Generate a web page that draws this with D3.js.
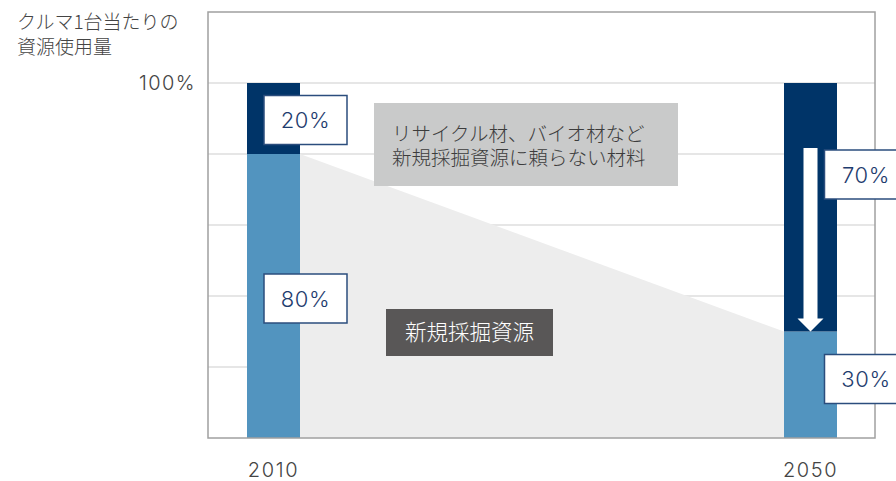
<!DOCTYPE html>
<html>
<head>
<meta charset="utf-8">
<title>クルマ1台当たりの資源使用量</title>
<style>
    body { margin: 0; background: #fff; }
    svg text { font-family: "Noto Sans CJK JP", "Noto Sans", sans-serif; font-weight: 300; }
    svg text.num { font-family: Inter, Roboto, "Noto Sans CJK JP", sans-serif; font-weight: 300; }
</style>
<script src="https://cdn.jsdelivr.net/npm/d3@7"></script>
</head>
<body>
<div id="chart"></div>
<script>
    // data
    const years = [2010, 2050];
    const newResource = [80, 30];      // 新規採掘資源 (%)
    const altMaterial = [20, 70];      // リサイクル材、バイオ材など (%)
    const gridTicks = [0, 20, 40, 60, 80, 100];
    const tickLabels = ["100%"];
    const titleLines = ["クルマ1台当たりの", "資源使用量"];
    const altLines = ["リサイクル材、バイオ材など", "新規採掘資源に頼らない材料"];
    const newLabel = "新規採掘資源";

    const COLOR = {
        NAVY: "#003468",
        BLUE: "#5294bf",
        AREA: "#ededed",
        GRID: "#dedede",
        FRAME: "#a0a0a0",
        TEXT: "#444",
        LABEL: "#1e3c6e"
    };

    const W = 896, H = 481;
    const frame = { left: 208, right: 875, top: 12, bottom: 438 };
    const barW = 53;

    const svg = d3.select("#chart").append("svg")
        .attr("width", W)
        .attr("height", H);

    const x = d3.scaleLinear().domain([2010, 2050]).range([273.5, 810.5]);
    const y = d3.scaleLinear().domain([0, 100]).range([frame.bottom, 83]);

    // gridlines
    svg.append("g")
        .selectAll("line")
        .data(gridTicks.filter(d => d > 0))
        .join("line")
        .attr("x1", frame.left)
        .attr("x2", frame.right)
        .attr("y1", d => y(d))
        .attr("y2", d => y(d))
        .attr("stroke", COLOR.GRID)
        .attr("stroke-width", 1.5);

    // grey area between the new-resource shares
    const area = d3.area()
        .x(d => d.x)
        .y0(y(0))
        .y1(d => d.y);
    svg.append("path")
        .datum([
            { x: x(years[0]) + barW / 2, y: y(newResource[0]) },
            { x: x(years[1]) - barW / 2, y: y(newResource[1]) }
        ])
        .attr("d", area)
        .attr("fill", COLOR.AREA);

    // stacked bars
    const bars = svg.append("g");
    years.forEach(function (yr, i) {
        bars.append("rect")
            .attr("x", x(yr) - barW / 2)
            .attr("width", barW)
            .attr("y", y(newResource[i]))
            .attr("height", y(0) - y(newResource[i]))
            .attr("fill", COLOR.BLUE);
        bars.append("rect")
            .attr("x", x(yr) - barW / 2)
            .attr("width", barW)
            .attr("y", y(newResource[i] + altMaterial[i]))
            .attr("height", y(newResource[i]) - y(newResource[i] + altMaterial[i]))
            .attr("fill", COLOR.NAVY);
    });

    // downward arrow on the 2050 bar
    const ax = x(years[1]);
    const tip = y(newResource[1]);
    svg.append("path")
        .attr("d", "M" + (ax - 7) + "," + 148 + "V" + (tip - 13) + "H" + (ax - 13) +
            "L" + ax + "," + tip + "L" + (ax + 13) + "," + (tip - 13) + "H" + (ax + 7) + "V148Z")
        .attr("fill", "#fff");

    // frame
    svg.append("rect")
        .attr("x", frame.left)
        .attr("y", frame.top)
        .attr("width", frame.right - frame.left)
        .attr("height", frame.bottom - frame.top)
        .attr("fill", "none")
        .attr("stroke", COLOR.FRAME)
        .attr("stroke-width", 1.5);

    // y title + tick label
    svg.append("text")
        .attr("fill", COLOR.TEXT)
        .style("font-size", "19px")
        .selectAll("tspan")
        .data(titleLines)
        .join("tspan")
        .attr("x", 17)
        .attr("y", (d, i) => 29 + i * 25)
        .text(d => d);

    svg.append("text")
        .attr("class", "num")
        .attr("x", 196)
        .attr("y", y(100) + 7)
        .attr("text-anchor", "end")
        .attr("fill", COLOR.TEXT)
        .style("font-size", "20px")
        .style("letter-spacing", "1.4px")
        .text(tickLabels[0]);

    // x labels
    svg.append("g")
        .selectAll("text")
        .data(years)
        .join("text")
        .attr("class", "num")
        .attr("x", d => x(d))
        .attr("y", 477)
        .attr("text-anchor", "middle")
        .attr("fill", COLOR.TEXT)
        .style("font-size", "20px")
        .style("letter-spacing", "1.6px")
        .text(d => d);

    // percentage boxes
    const boxes = [
        { cx: 305.5, cy: 120, v: altMaterial[0] },
        { cx: 305.5, cy: 298.5, v: newResource[0] },
        { cx: 866, cy: 174.5, v: altMaterial[1] },
        { cx: 866, cy: 379, v: newResource[1] }
    ];
    const bg = svg.append("g").selectAll("g").data(boxes).join("g");
    bg.append("rect")
        .attr("x", d => d.cx - 41.5)
        .attr("y", d => d.cy - 24.5)
        .attr("width", 83)
        .attr("height", 49)
        .attr("fill", "#fff")
        .attr("stroke", "#2b4d7d")
        .attr("stroke-width", 1.5);
    bg.append("text")
        .attr("class", "num")
        .attr("x", d => d.cx)
        .attr("y", d => d.cy + 8)
        .attr("text-anchor", "middle")
        .attr("fill", COLOR.LABEL)
        .style("font-size", "22px")
        .style("letter-spacing", "0.6px")
        .text(d => d.v + "%");

    // light grey note box
    svg.append("rect")
        .attr("x", 374)
        .attr("y", 103)
        .attr("width", 304)
        .attr("height", 83)
        .attr("fill", "#c9caca");
    svg.append("text")
        .attr("fill", "#3c3c3c")
        .style("font-size", "19.5px")
        .selectAll("tspan")
        .data(altLines)
        .join("tspan")
        .attr("x", 392)
        .attr("y", (d, i) => 141 + i * 24)
        .text(d => d);

    // dark note box
    svg.append("rect")
        .attr("x", 386)
        .attr("y", 309)
        .attr("width", 167)
        .attr("height", 47)
        .attr("fill", "#595757");
    svg.append("text")
        .attr("x", 469.5)
        .attr("y", 340)
        .attr("text-anchor", "middle")
        .attr("fill", "#fff")
        .style("font-size", "21.5px")
        .text(newLabel);
</script>
</body>
</html>
